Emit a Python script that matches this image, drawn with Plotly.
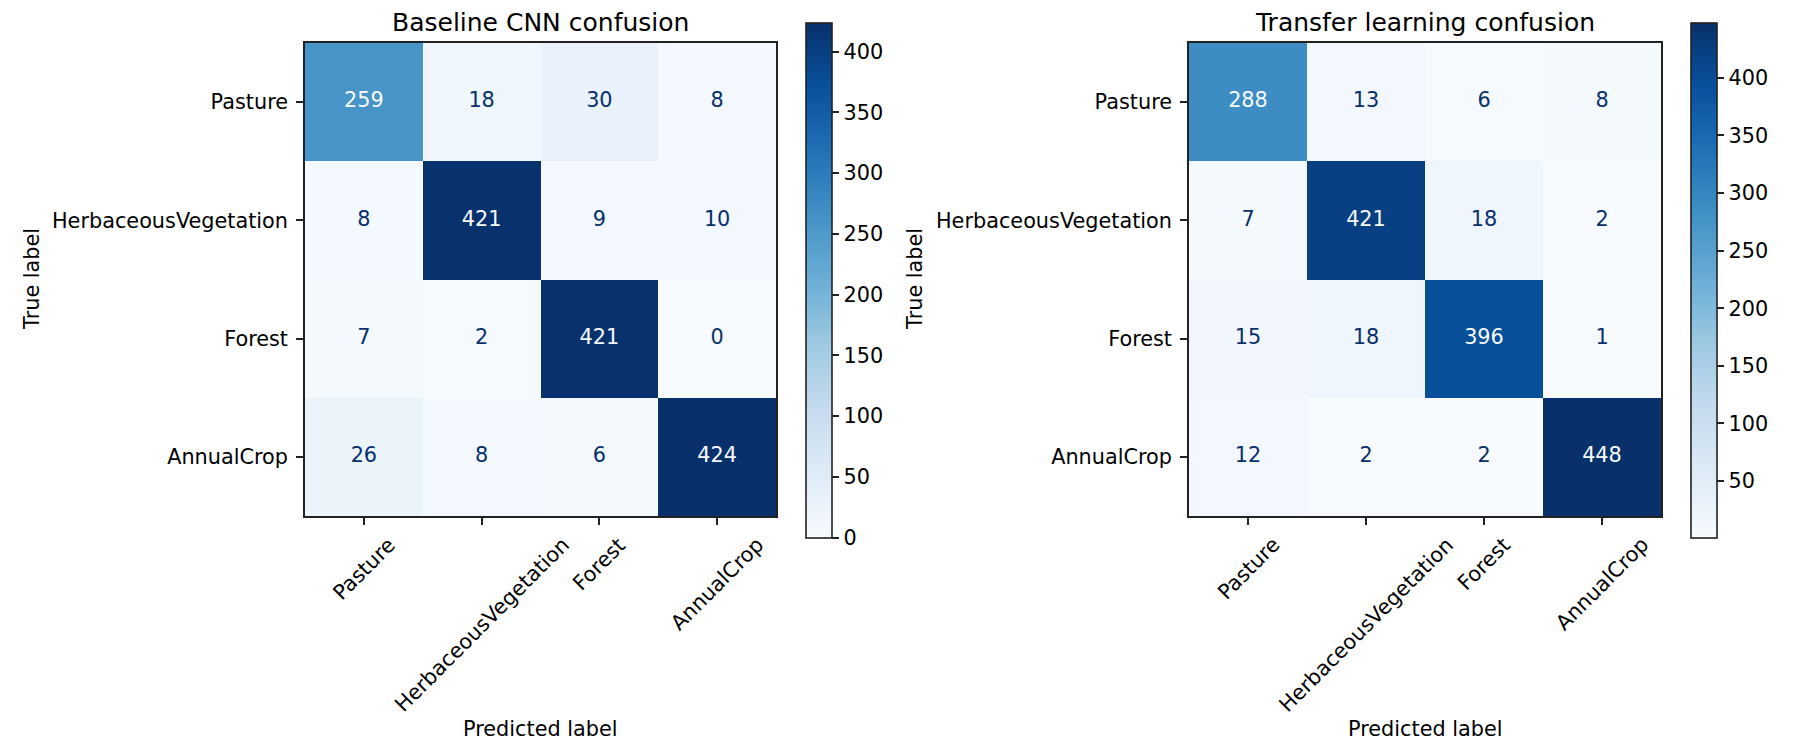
import plotly.graph_objects as go
import plotly.express as px

# confusion matrices
labels = ['Pasture', 'HerbaceousVegetation', 'Forest', 'AnnualCrop']
baseline_cm = [[259, 18, 30, 8],
               [8, 421, 9, 10],
               [7, 2, 421, 0],
               [26, 8, 6, 424]]
transfer_cm = [[288, 13, 6, 8],
               [7, 421, 18, 2],
               [15, 18, 396, 1],
               [12, 2, 2, 448]]
titles = ['Baseline CNN confusion', 'Transfer learning confusion']

W, H = 1800, 750
OFF = 8  # page margin around the plot div
FONT = 'DejaVu Sans'
FS = 20.8
blues = px.colors.sequential.Blues
n = len(blues)
cscale = [[i / (n - 1), c] for i, c in enumerate(blues)]


def px_x(v):
    return (v - OFF) / W


def px_y(v):
    return 1 - (v - OFF) / H


# pixel boxes (left, right, top, bottom) for each panel and colorbar
panels = [dict(x0=305, x1=776, y0=43, y1=516, cb=806, ylab=31.5),
          dict(x0=1189, x1=1661, y0=43, y1=516, cb=1691, ylab=914.5)]

fig = go.Figure()
annotations = []

for k, (cm, p) in enumerate(zip([baseline_cm, transfer_cm], panels)):
    xa = 'x' if k == 0 else 'x2'
    ya = 'y' if k == 0 else 'y2'
    vals = [v for row in cm for v in row]
    zmin, zmax = min(vals), max(vals)
    thresh = (zmin + zmax) / 2.0

    fig.add_trace(go.Heatmap(
        z=cm, x=labels, y=labels, xaxis=xa, yaxis=ya,
        colorscale=cscale, zmin=zmin, zmax=zmax, hoverinfo='skip',
        colorbar=dict(
            x=px_x(p['cb']), xanchor='left', thickness=26,
            y=px_y(280), yanchor='middle', len=515 / H, lenmode='fraction',
            xpad=0, ypad=0, outlinewidth=1.6, outlinecolor='#222',
            ticks='outside', ticklen=7, tickwidth=1.6, tickcolor='#222',
            tick0=0, dtick=50,
            tickfont=dict(family=FONT, size=FS, color='black'),
        ),
    ))

    tx, ty, tt, tc = [], [], [], []
    for i, row in enumerate(cm):
        for j, v in enumerate(row):
            tx.append(labels[j])
            ty.append(labels[i])
            tt.append(str(v))
            tc.append('#f7fbff' if v >= thresh else '#08306b')
    fig.add_trace(go.Scatter(
        x=tx, y=ty, text=tt, mode='text', xaxis=xa, yaxis=ya,
        textfont=dict(family=FONT, size=FS, color=tc),
        hoverinfo='skip', showlegend=False,
    ))

    xc = px_x((p['x0'] + p['x1']) / 2)
    yc = px_y((p['y0'] + p['y1']) / 2)
    # title
    annotations.append(dict(text=titles[k], x=xc, y=px_y(22), xref='paper', yref='paper',
                            xanchor='center', yanchor='middle', showarrow=False,
                            font=dict(family=FONT, size=25, color='black')))
    # axis labels
    annotations.append(dict(text='True label', x=px_x(p['ylab']), y=yc, xref='paper', yref='paper',
                            xanchor='center', yanchor='middle', textangle=-90, showarrow=False,
                            font=dict(family=FONT, size=FS, color='black')))
    annotations.append(dict(text='Predicted label', x=xc, y=px_y(729), xref='paper', yref='paper',
                            xanchor='center', yanchor='middle', showarrow=False,
                            font=dict(family=FONT, size=FS, color='black')))
    # rotated x tick labels, centred on the tick like matplotlib
    for lab in labels:
        annotations.append(dict(text=lab, x=lab, xref=xa, y=px_y(p['y1']), yref='paper',
                                xanchor='center', yanchor='top', yshift=-14, textangle=-45,
                                showarrow=False, font=dict(family=FONT, size=FS, color='black')))

axis_common = dict(showline=True, mirror=True, linecolor='#222', linewidth=1.6,
                   ticks='outside', ticklen=7, tickwidth=1.6, tickcolor='#222',
                   showgrid=False, zeroline=False, type='category',
                   tickfont=dict(family=FONT, size=FS, color='black'))

fig.update_layout(
    width=W, height=H,
    margin=dict(l=0, r=0, t=0, b=0),
    paper_bgcolor='white', plot_bgcolor='white',
    showlegend=False,
    font=dict(family=FONT, color='black'),
    annotations=annotations,
    xaxis=dict(domain=[px_x(panels[0]['x0']), px_x(panels[0]['x1'])], anchor='y',
               showticklabels=False, **axis_common),
    yaxis=dict(domain=[px_y(panels[0]['y1']), px_y(panels[0]['y0'])], anchor='x',
               autorange='reversed', ticklabelstandoff=4, **axis_common),
    xaxis2=dict(domain=[px_x(panels[1]['x0']), px_x(panels[1]['x1'])], anchor='y2',
                showticklabels=False, **axis_common),
    yaxis2=dict(domain=[px_y(panels[1]['y1']), px_y(panels[1]['y0'])], anchor='x2',
                autorange='reversed', ticklabelstandoff=4, **axis_common),
)

fig.write_html('out.html')
